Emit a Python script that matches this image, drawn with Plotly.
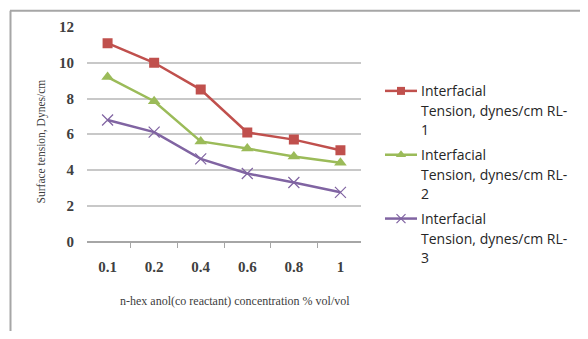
import plotly.graph_objects as go

# Co-reactant concentration categories (% vol/vol)
concentrations = ["0.1", "0.2", "0.4", "0.6", "0.8", "1"]

# Interfacial tension (dynes/cm) for each formulation
tension_rl1 = [11.1, 10.0, 8.5, 6.1, 5.7, 5.1]
tension_rl2 = [9.2, 7.85, 5.6, 5.2, 4.75, 4.4]
tension_rl3 = [6.8, 6.12, 4.62, 3.8, 3.3, 2.75]

y_ticks = [0, 2, 4, 6, 8, 10, 12]

series_names = ["RL-1", "RL-2", "RL-3"]
series_values = [tension_rl1, tension_rl2, tension_rl3]
colors = ["#c0504d", "#9bbb59", "#8064a2"]
symbols = ["square", "triangle-up", "x-thin"]
marker_sizes = [10, 11, 11]

W, H = 588, 339
# plot area in pixels
PX0, PX1 = 87, 361
PY_TOP, PY_BOT = 20, 245

fig = go.Figure()

for name, vals, col, sym, ms in zip(series_names, series_values, colors, symbols, marker_sizes):
    fig.add_trace(go.Scatter(
        x=concentrations, y=vals, mode="lines+markers",
        name="Interfacial Tension, dynes/cm " + name,
        line=dict(color=col, width=2.5),
        marker=dict(symbol=sym, size=ms, color=col,
                    line=dict(color=col, width=1.2 if sym == "x-thin" else 0)),
        xaxis="x", yaxis="y", showlegend=False,
    ))

# Legend drawn on a pixel-space overlay axis
legend_rows = [87, 154, 221]
for name, col, sym, ms, row in zip(series_names, colors, symbols, marker_sizes, legend_rows):
    fig.add_trace(go.Scatter(
        x=[385, 401, 417], y=[row, row, row], mode="lines",
        line=dict(color=col, width=2.5), xaxis="x2", yaxis="y2",
        showlegend=False, hoverinfo="skip",
    ))
    fig.add_trace(go.Scatter(
        x=[401], y=[row], mode="markers",
        marker=dict(symbol=sym, size=ms - 2, color=col,
                    line=dict(color=col, width=1.2 if sym == "x-thin" else 0)),
        xaxis="x2", yaxis="y2", showlegend=False, hoverinfo="skip",
    ))
    lines = ["Interfacial", "Tension, dynes/cm " + name[:-1], name[-1]]
    for i, txt in enumerate(lines):
        fig.add_annotation(
            x=419, y=row + i * 20.5, xref="x2", yref="y2", text=txt,
            showarrow=False, xanchor="left", yanchor="middle",
            font=dict(family="Open Sans", size=14, color="#262626"),
        )

# Axis titles
fig.add_annotation(
    x=41, y=140, xref="x2", yref="y2", text="Surface tension, Dynes/cm",
    textangle=-90, showarrow=False, xanchor="center", yanchor="middle",
    font=dict(family="Liberation Serif", size=11.5, color="#404040"),
)
fig.add_annotation(
    x=235, y=308, xref="x2", yref="y2",
    text="n-hex anol(co reactant) concentration % vol/vol",
    showarrow=False, xanchor="center", yanchor="middle",
    font=dict(family="Liberation Serif", size=12, color="#404040"),
)

# Frame lines along top and left edges
fig.add_shape(type="line", x0=10, x1=580, y0=3, y1=3, xref="x2", yref="y2",
              line=dict(color="#a6a6a6", width=2))
fig.add_shape(type="line", x0=10.5, x1=10.5, y0=3, y1=339, xref="x2", yref="y2",
              line=dict(color="#a6a6a6", width=2))

tick_font = dict(family="Liberation Serif", size=15, color="#404040", weight="bold")

fig.update_layout(
    width=W, height=H,
    margin=dict(l=0, r=0, t=0, b=0),
    paper_bgcolor="white", plot_bgcolor="rgba(0,0,0,0)",
    xaxis=dict(
        domain=[PX0 / W, PX1 / W], type="category",
        tickson="boundaries", ticks="outside", ticklen=5, tickcolor="#a6a6a6",
        tickwidth=1, showline=True, linecolor="#a6a6a6", linewidth=1.5,
        showgrid=False, tickfont=tick_font, ticklabelstandoff=11,
        anchor="y", zeroline=False,
    ),
    yaxis=dict(
        domain=[(H - PY_BOT) / H, (H - PY_TOP) / H], range=[0, 12],
        tickvals=y_ticks, showgrid=True, gridcolor="#c8c8c8", gridwidth=1.5,
        showline=False, zeroline=False, tickfont=tick_font,
        ticklabelstandoff=12, anchor="x",
    ),
    xaxis2=dict(domain=[0, 1], range=[0, W], visible=False, fixedrange=True,
                anchor="y2"),
    yaxis2=dict(domain=[0, 1], range=[H, 0], visible=False, fixedrange=True,
                anchor="x2"),
)

fig.write_html("out.html")
